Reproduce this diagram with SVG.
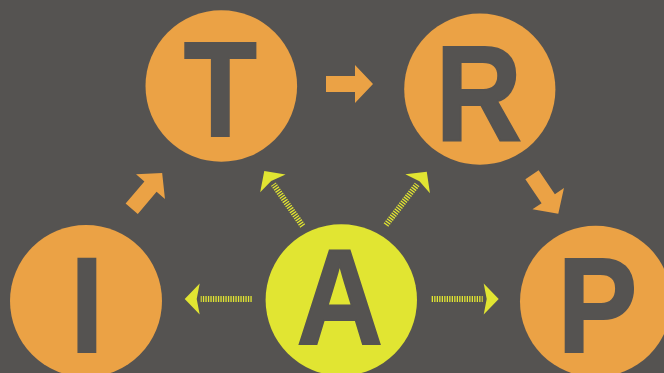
<svg xmlns="http://www.w3.org/2000/svg" width="664" height="373" viewBox="0 0 664 373">
<style>
.bg{fill:#555351}
.orange{fill:#EBA245}
.yellow{fill:#E1E532}
.letter{font-family:"Liberation Sans",Arial,sans-serif;font-weight:bold;font-size:136px;fill:#555351;stroke:#555351;stroke-width:1.8;text-anchor:middle}
.hatch{fill:none;stroke:#E1E532;stroke-width:6;stroke-dasharray:1.3 1.2}
</style>
<defs>
<path id="oarrow" d="M0,-8 H29 V-19 L47,0 L29,19 V8 H0 Z" fill="#EBA245"/>
<g id="yarrow">
<line class="hatch" x1="0" y1="0" x2="51" y2="0"/>
<path d="M52,-15.5 L67,0 L52,15.5 L55,0 Z" fill="#E1E532"/>
</g>
</defs>
<rect class="bg" x="0" y="0" width="664" height="373"/>
<g id="connectors">
<use href="#oarrow" transform="translate(326,84)"/>
<use href="#oarrow" transform="translate(131.7,208.7) rotate(-49.6)"/>
<use href="#oarrow" transform="translate(532,174.7) rotate(56)"/>
<use href="#yarrow" transform="translate(251.7,299) rotate(180)"/>
<use href="#yarrow" transform="translate(431.7,299)"/>
<use href="#yarrow" transform="translate(302.7,226) rotate(-125)"/>
<use href="#yarrow" transform="translate(386,225) rotate(-52.5)"/>
</g>
<g id="node-T">
<circle class="orange" cx="221.3" cy="86" r="75.8"/>
<text class="letter" transform="translate(220.4,136.1) scale(0.88,1)">T</text>
</g>
<g id="node-R">
<circle class="orange" cx="479.8" cy="89.2" r="75.6"/>
<text class="letter" transform="translate(478.8,140.4) scale(0.88,1)">R</text>
</g>
<g id="node-I">
<circle class="orange" cx="86" cy="301" r="76"/>
<text class="letter" transform="translate(87,351.8) scale(0.88,1)">I</text>
</g>
<g id="node-A">
<circle class="yellow" cx="341.3" cy="300" r="75.7"/>
<text class="letter" transform="translate(339.7,344.1) scale(0.88,1)">A</text>
</g>
<g id="node-P">
<circle class="orange" cx="595.7" cy="301.4" r="75.7"/>
<text class="letter" transform="translate(597.5,352.4) scale(0.88,1)">P</text>
</g>
</svg>
